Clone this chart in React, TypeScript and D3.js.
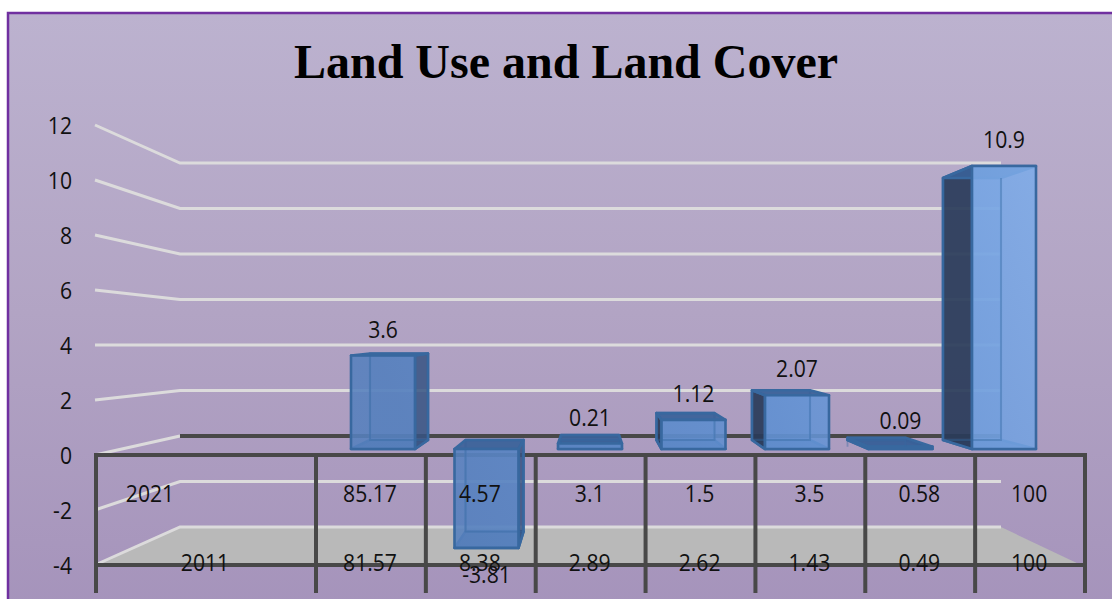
import React from "react";
import * as d3 from "d3";

const titleText = "Land Use and Land Cover";
const yTicks = [12, 10, 8, 6, 4, 2, 0, -2, -4];
const changeValues = [3.6, -3.81, 0.21, 1.12, 2.07, 0.09, 10.9];
const changeLabels = ["3.6", "-3.81", "0.21", "1.12", "2.07", "0.09", "10.9"];
const row2021 = ["85.17", "4.57", "3.1", "1.5", "3.5", "0.58", "100"];
const row2011 = ["81.57", "8.38", "2.89", "2.62", "1.43", "0.49", "100"];
const rowNames = ["2021", "2011"];

const W = 1112, H = 599;
const idx = changeValues.map((_, i) => i);

// Perspective chart: a front plane and a back plane, each with its own scale
const yFront = d3.scaleLinear().domain([0, 12]).range([455, 125]);
const yBack = d3.scaleLinear().domain([0, 12]).range([436, 163]);
const barFrontY = d3.scaleLinear().domain([0, 10.9]).range([449, 166]);
const barBackY = d3.scaleLinear().domain([0, 10.9]).range([440, 178]);
const barFrontX = d3.scaleLinear().domain([0, 6]).range([351, 972]);
const barBackX = d3.scaleLinear().domain([0, 6]).range([370, 943]);
const barFrontW = 64, barBackW = 58;
const colX = d3.scaleLinear().domain([0, 7]).range([316, 1085]);

const FX0 = 95, BX0 = 180, BX1 = 1001, TX0 = 96, TX1 = 1085;
const AXIS = "#484848", GRID = "#dcdbdc", EDGE = "#38689f";
const pts = (a: number[][]) => a.map((p) => p.join(",")).join(" ");

function Txt({ x, y, anchor = "middle", children }: any) {
  return (
    <text
      transform={`translate(${x},${y}) scale(0.9,1)`}
      textAnchor={anchor}
      fontFamily="'Open Sans', sans-serif"
      fontSize={23.5}
      fill="#111"
    >
      {children}
    </text>
  );
}

function Bar({ i }: { i: number }) {
  const v = changeValues[i];
  const fl = barFrontX(i), fr = fl + barFrontW;
  const bl = barBackX(i), br = bl + barBackW;
  const f0 = barFrontY(0), fv = barFrontY(v), b0 = barBackY(0), bv = barBackY(v);
  const ft = Math.min(f0, fv), fb = Math.max(f0, fv);
  const bt = Math.min(b0, bv), bb = Math.max(b0, bv);
  const stroke = { stroke: EDGE, strokeWidth: 2.6, strokeLinejoin: "round" as const };
  const sideDark = i >= 3 ? "rgba(40,56,84,0.88)" : "rgba(52,80,124,0.78)";
  const leftVisible = bl < fl;
  const rightVisible = br > fr;
  return (
    <g>
      <polygon points={pts([[bl, bt], [br, bt], [br, bb], [bl, bb]])} fill="rgba(90,135,200,0.35)" {...stroke} strokeOpacity={0.55} />
      <polygon points={pts([[fl, fb], [fr, fb], [br, bb], [bl, bb]])} fill="rgba(62,102,160,0.75)" {...stroke} />
      {leftVisible && <polygon points={pts([[fl, ft], [bl, bt], [bl, bb], [fl, fb]])} fill={sideDark} {...stroke} />}
      {rightVisible && <polygon points={pts([[fr, ft], [br, bt], [br, bb], [fr, fb]])} fill={sideDark} {...stroke} />}
      <polygon points={pts([[fl, ft], [fr, ft], [br, bt], [bl, bt]])} fill="rgba(58,96,152,0.9)" {...stroke} />
      <polygon points={pts([[fl, ft], [fr, ft], [fr, fb], [fl, fb]])} fill="url(#barFace)" fillOpacity={0.88} {...stroke} />
      <polyline points={pts([[bl, Math.max(bt, ft)], [bl, bb], [br, bb], [br, Math.max(bt, ft)]])} fill="none" stroke={EDGE} strokeWidth={1.8} strokeOpacity={0.4} />
    </g>
  );
}

export default function App() {
  const floorF = yFront(-4), floorB = yBack(-4);
  const zeroF = yFront(0), zeroB = yBack(0);
  return (
    <svg
      width={W}
      height={H}
      viewBox={`0 0 ${W} ${H}`}
      style={{ position: "absolute", left: 0, top: 0, display: "block" }}
    >
      <defs>
        <linearGradient id="bg" x1="0" y1="0" x2="0" y2="1">
          <stop offset="0" stopColor="#bcb2cf" />
          <stop offset="0.5" stopColor="#b2a4c4" />
          <stop offset="1" stopColor="#a593bb" />
        </linearGradient>
        <linearGradient id="barFace" gradientUnits="userSpaceOnUse" x1="420" y1="450" x2="1030" y2="170">
          <stop offset="0" stopColor="#5680bd" />
          <stop offset="0.5" stopColor="#6291d2" />
          <stop offset="1" stopColor="#7dabe8" />
        </linearGradient>
      </defs>
      <rect x={0} y={0} width={W} height={H} fill="#fff" />
      <rect x={8} y={13} width={W} height={H} fill="url(#bg)" stroke="#7030a0" strokeWidth={2.5} />

      <text
        x={566}
        y={78}
        textAnchor="middle"
        fontFamily="'Liberation Serif', serif"
        fontWeight="bold"
        fontSize={48}
        fill="#000"
      >
        {titleText}
      </text>

      <polygon points={pts([[TX0, floorF], [BX0, floorB], [BX1, floorB], [TX1 - 4, floorF]])} fill="#b9b9b9" />

      {yTicks.map((t) => (
        <polyline
          key={t}
          points={pts([[FX0, yFront(t)], [BX0, yBack(t)], ...(t === 0 ? [] : [[BX1, yBack(t)]])])}
          fill="none"
          stroke={GRID}
          strokeWidth={3}
        />
      ))}
      <line x1={BX0} x2={BX1} y1={zeroB} y2={zeroB} stroke={AXIS} strokeWidth={4} />

      {yTicks.map((t) => (
        <Txt key={t} x={72} y={yFront(t) + 9} anchor="end">
          {t}
        </Txt>
      ))}

      <line x1={TX0 - 2} x2={TX1 + 2} y1={zeroF} y2={zeroF} stroke={AXIS} strokeWidth={4} />
      <line x1={TX0 - 2} x2={TX1 + 2} y1={floorF} y2={floorF} stroke={AXIS} strokeWidth={4} />
      {[TX0, ...d3.range(8).map((k) => colX(k))].map((x) => (
        <line key={x} x1={x} x2={x} y1={zeroF} y2={593} stroke={AXIS} strokeWidth={4} />
      ))}

      {idx.map((i) => (
        <Bar key={i} i={i} />
      ))}

      {idx.map((i) => {
        const v = changeValues[i];
        const y = v >= 0 ? barFrontY(v) - 18 : barFrontY(v) + 35;
        return (
          <Txt key={i} x={barFrontX(i) + barFrontW / 2} y={y}>
            {changeLabels[i]}
          </Txt>
        );
      })}

      <Txt x={150} y={502}>{rowNames[0]}</Txt>
      <Txt x={205} y={571}>{rowNames[1]}</Txt>
      {idx.map((i) => (
        <g key={i}>
          <Txt x={colX(i) + 54} y={502}>{row2021[i]}</Txt>
          <Txt x={colX(i) + 54} y={571}>{row2011[i]}</Txt>
        </g>
      ))}
    </svg>
  );
}
